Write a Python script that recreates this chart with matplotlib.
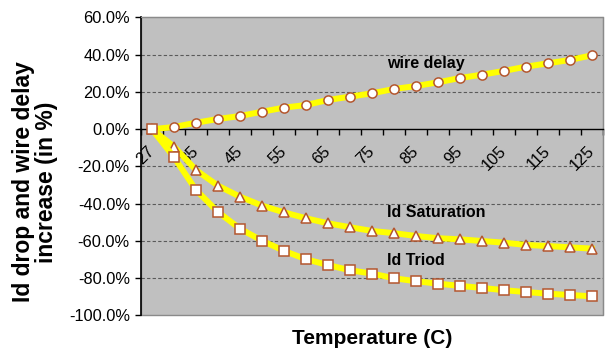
import numpy as np
import matplotlib
matplotlib.use("Agg")
import matplotlib.pyplot as plt
from matplotlib.ticker import FixedLocator, FuncFormatter

plt.rcParams['font.family'] = ['Liberation Sans', 'DejaVu Sans']

# temperatures (C) on a category axis
temps = [27, 30, 35, 40, 45, 50, 55, 60, 65, 70, 75, 80, 85, 90, 95, 100,
         105, 110, 115, 120, 125]

# percentage change relative to 27C
wire_delay = [0.0, 1.2, 3.5, 5.5, 7.1, 9.4, 11.6, 13.0, 15.7, 17.5, 19.3,
              21.6, 23.2, 25.2, 27.5, 29.3, 31.3, 33.6, 35.4, 37.2, 39.7]
id_sat = [0.0, -9.3, -21.9, -30.3, -36.2, -41.0, -44.6, -47.8, -50.5, -52.6,
          -54.6, -55.8, -57.3, -58.5, -59.1, -60.0, -60.9, -62.1, -62.7,
          -63.4, -64.1]
id_triod = [0.0, -15.0, -32.6, -44.4, -53.4, -59.8, -65.3, -69.8, -72.9,
            -75.7, -77.5, -80.0, -81.6, -82.9, -84.1, -85.2, -86.4, -87.4,
            -88.3, -89.0, -89.7]

series_labels = ["wire delay", "Id Saturation", "Id Triod"]
yticks = [60, 40, 20, 0, -20, -40, -60, -80, -100]

fig = plt.figure(figsize=(6.09, 3.52), dpi=100)
ax = fig.add_axes([0.2315, 0.1037, 0.7585, 0.8466])

ax.set_facecolor('#c0c0c0')
ax.patch.set_edgecolor('#8a8a8a')
ax.patch.set_linewidth(1.0)

x = np.arange(len(temps))
edge = '#b4562e'
line_kw = dict(color='#ffff00', lw=4.3, markerfacecolor='white',
               markeredgecolor=edge, markeredgewidth=1.1, zorder=3,
               clip_on=False)
ax.plot(x, wire_delay, marker='o', markersize=6.6, **line_kw)
ax.plot(x, id_sat, marker='^', markersize=7.0, **line_kw)
ax.plot(x, id_triod, marker='s', markersize=6.6, **line_kw)

ax.set_xlim(-0.5, len(temps) - 0.5)
ax.set_ylim(-100, 60)

# y axis
ax.yaxis.set_major_locator(FixedLocator(yticks))
ax.yaxis.set_major_formatter(FuncFormatter(lambda v, p: f"{v:.1f}%"))
ax.tick_params(axis='y', direction='out', length=4, width=1, pad=4,
               labelsize=11.8, colors='black')
for v in yticks:
    if v not in (0, 60, -100):
        ax.axhline(v, color='#5a5a5a', lw=0.8, ls=(0, (3, 2)), zorder=1)

# x axis crosses at 0
ax.spines['bottom'].set_position(('data', 0))
ax.spines['bottom'].set_color('black')
ax.spines['bottom'].set_linewidth(1.0)
ax.spines['left'].set_color('black')
ax.spines['left'].set_linewidth(1.2)
ax.spines['top'].set_color('#8a8a8a')
ax.spines['right'].set_color('#8a8a8a')

label_idx = x[::2]
ax.xaxis.set_major_locator(FixedLocator(label_idx))
ax.set_xticklabels([str(temps[i]) for i in label_idx])
ax.xaxis.set_minor_locator(FixedLocator(np.arange(-0.5, len(temps), 1.0)))
ax.tick_params(axis='x', which='major', length=0, pad=14, labelsize=11.8)
ax.tick_params(axis='x', which='minor', direction='out', length=4, width=1)
for lab in ax.get_xticklabels():
    lab.set_rotation(45)
    lab.set_ha('right')
    lab.set_va('center')
    lab.set_rotation_mode('anchor')

# series names
text_kw = dict(fontsize=11.5, fontweight='bold', ha='left', va='center')
ax.text(10.68, 35.1, series_labels[0], **text_kw)
ax.text(10.68, -44.9, series_labels[1], **text_kw)
ax.text(10.68, -70.7, series_labels[2], **text_kw)

fig.text(35 / 609, 1 - 182 / 352, "Id drop and wire delay\nincrease (in %)",
         rotation=90, ha='center', va='center', fontsize=16.5,
         fontweight='bold', multialignment='center', linespacing=0.95)
fig.text(372 / 609, 1 - 338 / 352, "Temperature (C)", ha='center',
         va='center', fontsize=15, fontweight='bold')

fig.savefig('out.png', dpi=100)
